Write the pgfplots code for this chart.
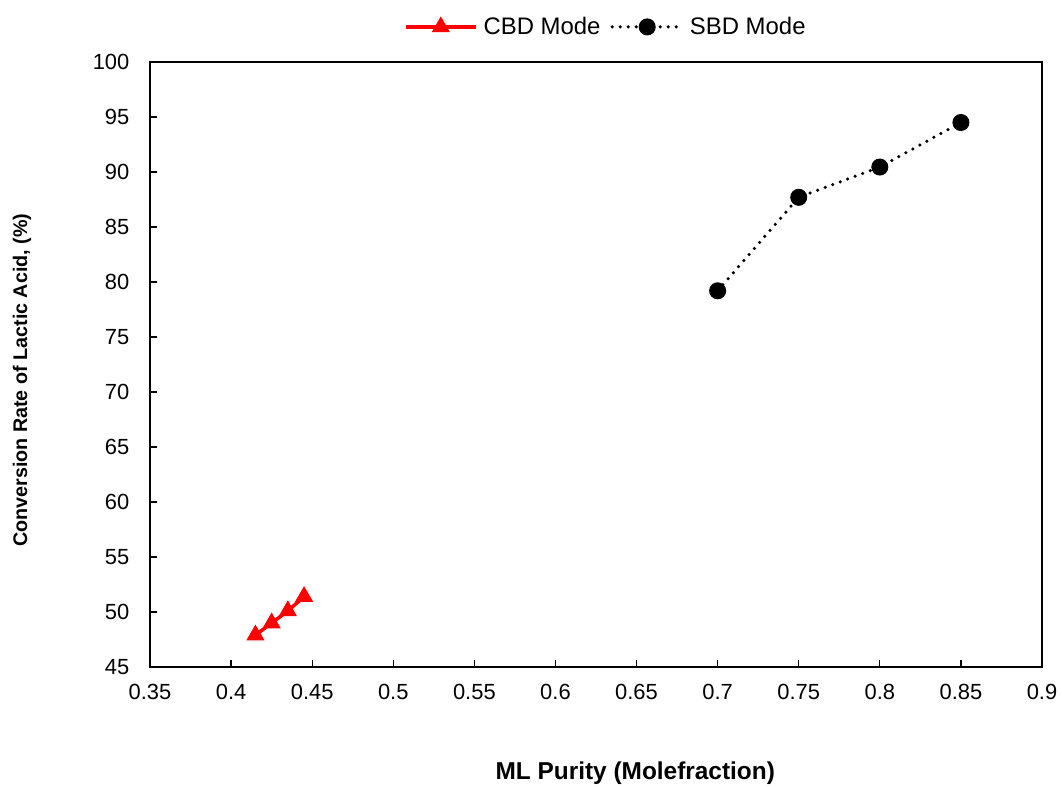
\documentclass[border=0pt]{standalone}
\usepackage{pgfplots}
\pgfplotsset{compat=1.18}
\usepackage{fontspec}
\setmainfont{Liberation Sans}
\begin{document}
\fontsize{19.5}{23}\selectfont
\begin{tikzpicture}[x=1bp,y=1bp]
\useasboundingbox (-150bp,-120bp) rectangle (912bp,667bp);
\begin{axis}[
  at={(0,0)}, anchor=south west,
  scale only axis,
  width=892bp, height=605bp,
  xmin=0.35, xmax=0.9, ymin=45, ymax=100,
  xtick={0.35,0.4,...,0.9},
  xticklabels={0.35,0.4,0.45,0.5,0.55,0.6,0.65,0.7,0.75,0.8,0.85,0.9},
  ytick={45,50,...,100},
  tick align=inside,
  xtick pos=bottom, ytick pos=left,
  major tick length=7bp,
  tick style={line width=1.2bp, black},
  axis line style={line width=1.5bp},
  /pgf/number format/assume math mode=true,
  ticklabel style={font=\fontsize{22}{26}\selectfont},
  xticklabel style={yshift=-11bp},
  yticklabel style={xshift=-14bp},
  xlabel={\textbf{ML Purity (Molefraction)}},
  ylabel={\textbf{Conversion Rate of Lactic Acid, (\%)}},
  ylabel style={font=\fontsize{19.8}{23}\selectfont, at={(axis description cs:-0.1435,0.474)}, anchor=center},
  xlabel style={font=\fontsize{24.5}{28}\selectfont, at={(axis description cs:0.544,-0.175)}, anchor=center},
  legend style={at={(axis description cs:0.511,1.058)}, anchor=center, draw=none, font=\fontsize{24}{28}\selectfont, column sep=8bp,
    /tikz/every odd column/.append style={column sep=4bp}},
  legend columns=2,
  legend image code/.code={%
    \draw[mark repeat=2,mark phase=2] plot coordinates {(0bp,0bp) (35bp,0bp) (70bp,0bp)};},
]
\addplot[red, line width=3.5bp, mark=triangle*, mark size=9.5bp, mark options={solid, line width=1bp}]
  coordinates {(0.415,47.9) (0.425,49.0) (0.435,50.1) (0.445,51.4)};
\addlegendentry{CBD Mode}
\addplot[black, line width=3.5bp, dash pattern=on 0bp off 8bp, line cap=round, mark=*, mark size=8bp, mark options={solid, line width=1bp}]
  coordinates {(0.70,79.2) (0.75,87.7) (0.80,90.45) (0.85,94.5)};
\addlegendentry{SBD Mode}
\end{axis}
\end{tikzpicture}
\end{document}
